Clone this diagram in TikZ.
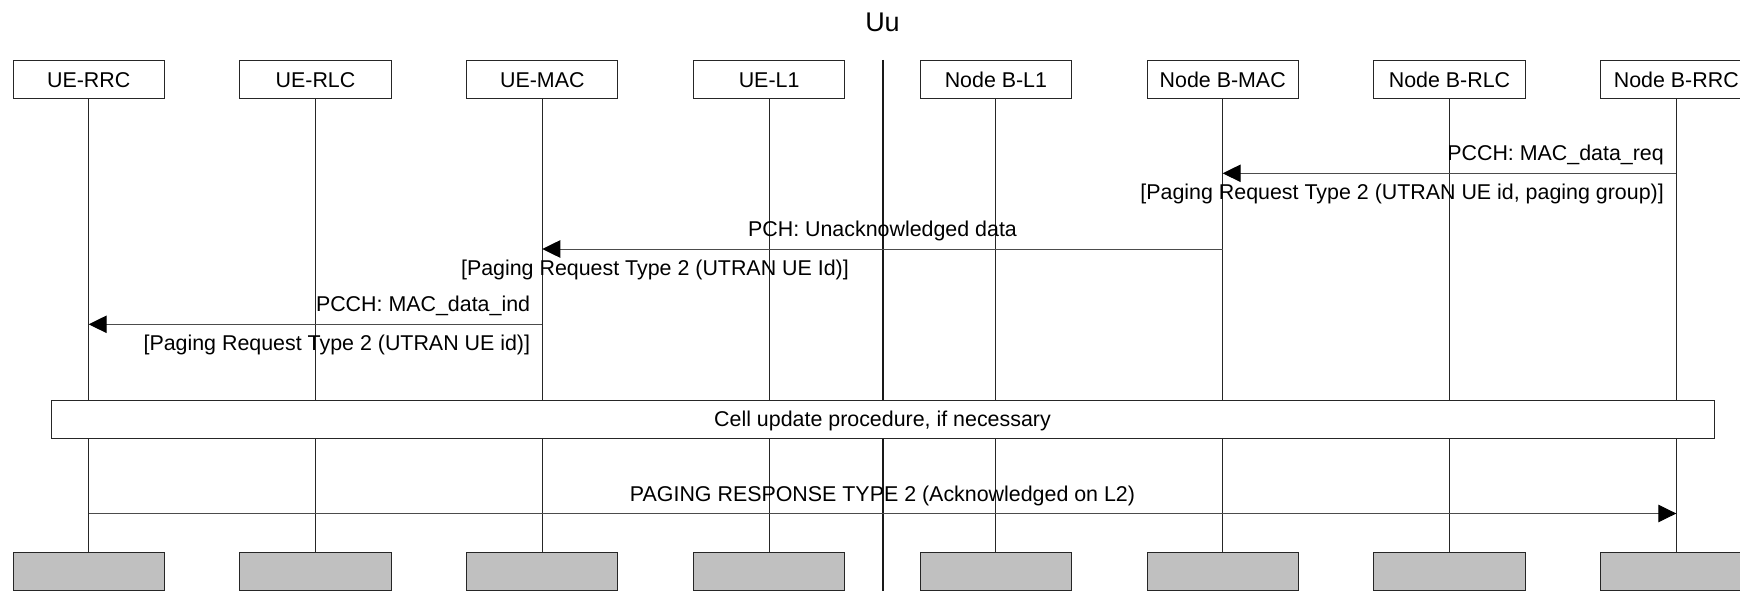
\documentclass[tikz,border=0pt]{standalone}
\usepackage{fontspec}
\setmainfont{Liberation Sans}
\usetikzlibrary{arrows.meta}
\definecolor{boxgrey}{HTML}{C0C0C0}
\begin{document}
\begin{tikzpicture}[x=1pt,y=-1pt,
  every node/.style={font=\fontsize{21.4}{25}\selectfont, inner sep=0pt},
  entity/.style={draw=black!85, line width=1pt, minimum width=151.3pt, minimum height=38.3pt, anchor=north, text height=15.3pt, text depth=0pt},
  endbox/.style={entity, fill=boxgrey},
  life/.style={draw=black!85, line width=1pt},
  msg/.style={draw=black!70, line width=1pt, -{Triangle[length=18pt,width=17.5pt,color=black]}},
  lbl/.style={anchor=base east},
  clbl/.style={anchor=base}]
\useasboundingbox (0,0) rectangle (1740,591);
\clip (0,0) rectangle (1740,591);
% title
\node[font=\fontsize{27}{31}\selectfont, anchor=base] (uu) at (882.5,32) {Uu};
% top boxes
\foreach \i/\t in {0/UE-RRC,1/UE-RLC,2/UE-MAC,3/UE-L1,4/Node B-L1,5/Node B-MAC,6/Node B-RLC,7/Node B-RRC}{
  \node[entity] (t\i) at (88.7+226.8*\i,60) {\t};
  \node[endbox] (b\i) at (88.7+226.8*\i,551.5) {};
  \draw[life] (t\i.south) -- (b\i.north);
}
% Uu interface line
\coordinate (uutop) at (882.5,60);
\coordinate (uubot) at (882.5,591);
\draw[line width=2pt, black!90] (uutop) -- (uubot);
% cell update box
\node[draw=black!85, line width=1pt, fill=white, minimum width=1663pt, minimum height=38pt, text height=15.3pt, text depth=0pt] (cell) at (882.5,419) {Cell update procedure, if necessary};
% message coordinates
\coordinate (m1s) at (t7.south |- 0,173.3);
\coordinate (m1e) at (t5.south |- 0,173.3);
\coordinate (m2s) at (t5.south |- 0,249);
\coordinate (m2e) at (t2.south |- 0,249);
\coordinate (m3s) at (t2.south |- 0,324.3);
\coordinate (m3e) at (t0.south |- 0,324.3);
\coordinate (m4s) at (t0.south |- 0,513.5);
\coordinate (m4e) at (t7.south |- 0,513.5);
\draw[msg] (m1s) -- (m1e);
\draw[msg] (m2s) -- (m2e);
\draw[msg] (m3s) -- (m3e);
\draw[msg] (m4s) -- (m4e);
% labels
\node[lbl] (l1a) at (1664,160.8) {PCCH: MAC\_data\_req};
\node[lbl] (l1b) at (1664,199.5) {[Paging Request Type 2 (UTRAN UE id, paging group)]};
\node[clbl] (l2a) at (882.5,236.5) {PCH: Unacknowledged data};
\node[lbl] (l2b) at (849,275) {[Paging Request Type 2 (UTRAN UE Id)]};
\node[lbl] (l3a) at (530.3,311.8) {PCCH: MAC\_data\_ind};
\node[lbl] (l3b) at (530.3,350.8) {[Paging Request Type 2 (UTRAN UE id)]};
\node[clbl] (l4a) at (882.5,501) {PAGING RESPONSE TYPE 2 (Acknowledged on L2)};
\end{tikzpicture}
\end{document}
